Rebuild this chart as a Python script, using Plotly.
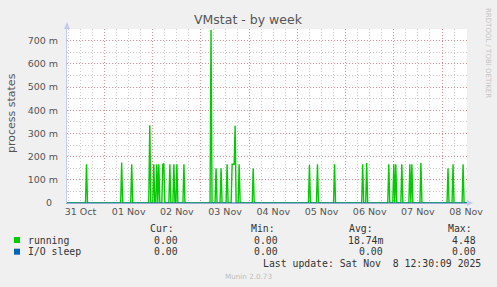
import plotly.graph_objects as go
import pandas as pd

# ---- data ----
sample_start = "2025-10-31 05:00"
sample_end = "2025-11-08 12:30"
spike_times = [
    "2025-10-31 15:00", "2025-11-01 08:30", "2025-11-01 13:30", "2025-11-01 22:30",
    "2025-11-02 00:30", "2025-11-02 02:00", "2025-11-02 03:00", "2025-11-02 05:00",
    "2025-11-02 05:30", "2025-11-02 08:30", "2025-11-02 10:30", "2025-11-02 12:00",
    "2025-11-02 15:30", "2025-11-03 05:00", "2025-11-03 07:30", "2025-11-03 10:00",
    "2025-11-03 13:00", "2025-11-03 15:30", "2025-11-03 16:00", "2025-11-03 16:30",
    "2025-11-03 17:00", "2025-11-03 19:00", "2025-11-04 02:00", "2025-11-05 06:00",
    "2025-11-05 10:00", "2025-11-05 18:30", "2025-11-06 08:30", "2025-11-06 10:30",
    "2025-11-06 21:30", "2025-11-07 00:00", "2025-11-07 01:00", "2025-11-07 04:00",
    "2025-11-07 08:00", "2025-11-07 09:00", "2025-11-07 13:30", "2025-11-08 03:00",
    "2025-11-08 05:30", "2025-11-08 10:30",
]
spike_values = [
    0.167, 0.175, 0.167, 0.335,
    0.167, 0.167, 0.167, 0.167,
    0.170, 0.167, 0.167, 0.167,
    0.167, 0.747, 0.150, 0.150,
    0.167, 0.167, 0.167, 0.167,
    0.333, 0.167, 0.150, 0.164,
    0.167, 0.167, 0.167, 0.172,
    0.167, 0.167, 0.167, 0.167,
    0.167, 0.167, 0.172, 0.150,
    0.167, 0.167,
]
io_sleep_level = 0.0

y_tick_values = [0, 0.1, 0.2, 0.3, 0.4, 0.5, 0.6, 0.7]
y_tick_labels = ["0\u00a0\u00a0", "100 m", "200 m", "300 m", "400 m", "500 m", "600 m", "700 m"]

legend_names = ["running", "I/O sleep"]
legend_colors = ["#00cc00", "#0066b3"]
stat_headers = ["Cur:", "Min:", "Avg:", "Max:"]
stats_running = ["0.00", "0.00", "18.74m", "4.48"]
stats_io = ["0.00", "0.00", "0.00", "0.00"]
last_update = "Last update: Sat Nov  8 12:30:09 2025"

x_range = ["2025-10-31 05:17", "2025-11-08 12:27"]

# ---- build series ----
times = pd.date_range(sample_start, sample_end, freq="30min")
running = pd.Series(0.0, index=times)
for t, v in zip(spike_times, spike_values):
    running[pd.Timestamp(t)] = v
io_sleep = pd.Series(io_sleep_level, index=times)

W, H = 497, 287
L, R, T, B = 67, 467, 29, 203


def px(x):
    return (x - L) / (R - L)


def py(y):
    return (B - y) / (B - T)


fig = go.Figure()
fig.add_trace(go.Scatter(x=running.index, y=running.values, mode="lines",
                         line=dict(color=legend_colors[0], width=1.4),
                         name=legend_names[0], hoverinfo="skip"))
fig.add_trace(go.Scatter(x=io_sleep.index, y=io_sleep.values, mode="lines",
                         line=dict(color=legend_colors[1], width=1),
                         name=legend_names[1], hoverinfo="skip"))

red_grid = "rgba(228,135,135,0.95)"
gray_grid = "rgba(200,200,200,0.95)"
tick_font = dict(family="DejaVu Sans", size=9.5, color="#555555")

fig.update_layout(
    width=W, height=H,
    margin=dict(l=L, r=W - R, t=T, b=H - B, pad=0),
    paper_bgcolor="#f0f0f0", plot_bgcolor="#ffffff",
    showlegend=False,
    xaxis=dict(
        type="date", range=x_range, tick0="2025-10-31", dtick=86400000,
        ticklabelmode="period", tickformat="%d %b", ticks="",
        showgrid=True, gridcolor=red_grid, griddash="1px,2px", gridwidth=1,
        minor=dict(dtick=6 * 3600000, showgrid=True, gridcolor=gray_grid,
                   griddash="1px,2px", gridwidth=1, ticks=""),
        showline=True, linecolor="#9fa9d8", linewidth=1,
        tickfont=tick_font, zeroline=False, fixedrange=True,
    ),
    yaxis=dict(
        range=[0, 0.75], tickvals=y_tick_values, ticktext=y_tick_labels, ticks="",
        showgrid=True, gridcolor=red_grid, griddash="1px,2px", gridwidth=1,
        minor=dict(dtick=0.05, tick0=0, showgrid=True, gridcolor=gray_grid,
                   griddash="1px,2px", gridwidth=1, ticks=""),
        showline=True, linecolor="#c5cbee", linewidth=1,
        tickfont=tick_font, zeroline=False, ticklabelstandoff=6, fixedrange=True,
    ),
)

ann = []


def text(x, y, s, size, color, family="DejaVu Sans", xanchor="left", angle=0):
    ann.append(dict(x=px(x), y=py(y), xref="paper", yref="paper", text=s,
                    showarrow=False, xanchor=xanchor, yanchor="middle",
                    textangle=angle, borderpad=0,
                    font=dict(family=family, size=size, color=color)))


text(248.3, 19.5, "VMstat - by week", 12.5, "#555555", xanchor="center")
text(11, 113, "process states", 11, "#555555", xanchor="center", angle=-90)
text(488, 53, "RRDTOOL / TOBI OETIKER", 7, "#c4c4c4", xanchor="center", angle=90)

mono = "DejaVu Sans Mono"
msize = 9.8
mcol = "#333333"
header_x = [149, 250, 348.3, 446.7]
for hx, h in zip(header_x, stat_headers):
    text(hx, 228.3, h, msize, mcol, family=mono)
value_right = [179, 279, 384, 476.7]
rows_y = [240, 251.7]
for ry, name, vals in zip(rows_y, legend_names, [stats_running, stats_io]):
    text(27, ry, name, msize, mcol, family=mono)
    for vx, v in zip(value_right, vals):
        text(vx, ry, v, msize, mcol, family=mono, xanchor="right")
text(261.7, 263.3, last_update, msize, mcol, family=mono)
text(248.2, 276, "Munin 2.0.73", 7.2, "#bdbdbd", xanchor="center")

shapes = []
for ry, c in zip(rows_y, legend_colors):
    shapes.append(dict(type="rect", xref="paper", yref="paper",
                       x0=px(14), x1=px(20), y0=py(ry + 3), y1=py(ry - 3),
                       fillcolor=c, line=dict(width=0)))
# axis arrow heads
shapes.append(dict(type="path", xref="paper", yref="paper",
                   path=f"M {px(64)} {py(29)} L {px(70)} {py(29)} L {px(67)} {py(22)} Z",
                   fillcolor="#c5cbee", line=dict(width=0)))
shapes.append(dict(type="path", xref="paper", yref="paper",
                   path=f"M {px(467)} {py(200)} L {px(467)} {py(206)} L {px(473)} {py(203)} Z",
                   fillcolor="#c5cbee", line=dict(width=0)))

fig.update_layout(annotations=ann, shapes=shapes)
fig.write_html("out.html", config=dict(displayModeBar=False))
